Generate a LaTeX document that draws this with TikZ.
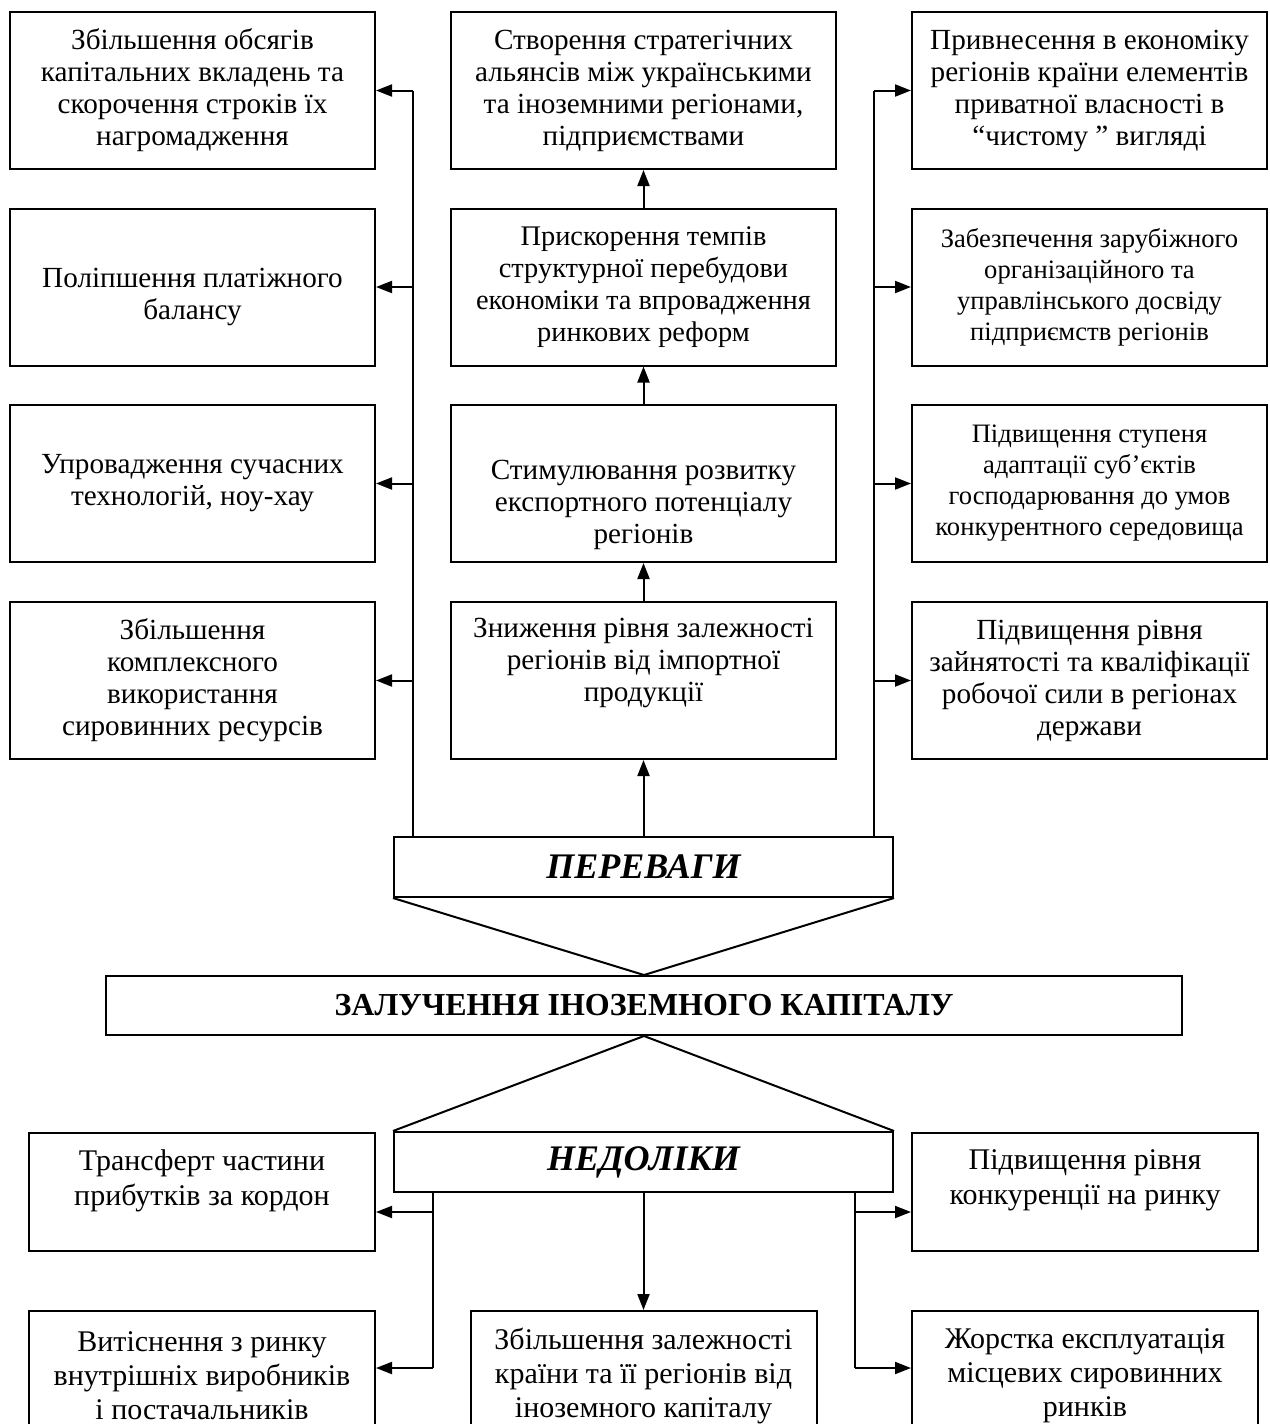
\documentclass[tikz,border=0pt]{standalone}
\usepackage{fontspec}
\setmainfont{Liberation Serif}
\usetikzlibrary{arrows.meta}

\begin{document}
\begin{tikzpicture}[x=0.5pt, y=-0.5pt,
  every node/.style={font=\fontsize{14.6}{16}\selectfont},
  box/.style={draw, line width=1pt, align=center, inner sep=2pt, minimum height=78.5pt},
  lbox/.style={box, minimum width=182.5pt},
  cbox/.style={box, minimum width=192.5pt},
  rbox/.style={box, minimum width=177.5pt},
  nbox/.style={box, minimum width=173pt, minimum height=59pt},
  bbox/.style={box, minimum width=173pt, minimum height=64.5pt, font=\fontsize{15}{17}\selectfont},
  small/.style={font=\fontsize{13.3}{15.5}\selectfont},
  lowtxt/.style={align=center, font=\fontsize{15}{17.5}\selectfont},
  txt/.style={align=center},
  head/.style={draw, line width=1pt, minimum width=249.5pt, minimum height=30pt, font=\fontsize{18}{20}\selectfont\bfseries\itshape},
  line/.style={line width=1pt},
  arr/.style={line width=1pt, -{Triangle[length=8pt,width=6pt]}}]
        \useasboundingbox (0,0) rectangle (1269,1424);
        % left column
        \node[lbox] (l1) at (192.5,90.5) {Збільшення обсягів\\капітальних вкладень та\\скорочення строків їх\\нагромадження};
        \node[lbox, label={[txt, yshift=-5pt]center:{Поліпшення платіжного\\балансу}}] (l2) at (192.5,287) {};
        \node[lbox] (l3) at (192.5,483.5) {Упровадження сучасних\\технологій, ноу-хау};
        \node[lbox] (l4) at (192.5,680.5) {Збільшення\\комплексного\\використання\\сировинних ресурсів};
        % centre column
        \node[cbox] (c1) at (643.5,90.5) {Створення стратегічних\\альянсів між українськими\\та іноземними регіонами,\\підприємствами};
        \node[cbox, font=\fontsize{14.2}{16}\selectfont] (c2) at (643.5,287) {Прискорення темпів\\структурної перебудови\\економіки та впровадження\\ринкових реформ};
        \node[cbox, label={[txt, yshift=-10.5pt]center:{Стимулювання розвитку\\експортного потенціалу\\регіонів}}] (c3) at (643.5,483.5) {};
        \node[cbox, label={[txt, yshift=8.75pt]center:{Зниження рівня залежності\\регіонів від імпортної\\продукції}}] (c4) at (643.5,680.5) {};
        % right column
        \node[rbox] (r1) at (1089.5,90.5) {Привнесення в економіку\\регіонів країни елементів\\приватної власності в\\“чистому ” вигляді};
        \node[rbox, small] (r2) at (1089.5,287) {Забезпечення зарубіжного\\організаційного та\\управлінського досвіду\\підприємств регіонів};
        \node[rbox, small] (r3) at (1089.5,483.5) {Підвищення ступеня\\адаптації суб’єктів\\господарювання до умов\\конкурентного середовища};
        \node[rbox] (r4) at (1089.5,680.5) {Підвищення рівня\\зайнятості та кваліфікації\\робочої сили в регіонах\\держави};
        % middle
        \node[head] (per) at (643.5,867) {ПЕРЕВАГИ};
        \node[draw, line width=1pt, minimum width=538pt, minimum height=29.5pt, font=\fontsize{16}{18}\selectfont\bfseries] (main) at (644,1005.5) {ЗАЛУЧЕННЯ ІНОЗЕМНОГО КАПІТАЛУ};
        \node[head] (ned) at (643.5,1162) {НЕДОЛІКИ};
        % lower boxes
        \node[nbox, label={[lowtxt, yshift=5.75pt]center:{Трансферт частини\\прибутків за кордон}}] (t1) at (202,1192) {};
        \node[nbox, label={[lowtxt, yshift=5.75pt]center:{Підвищення рівня\\конкуренції на ринку}}] (t2) at (1085,1192) {};
        \node[bbox] (v1) at (202,1375.5) {Витіснення з ринку\\внутрішніх виробників\\і постачальників};
        \node[bbox] (v2) at (643.5,1375.5) {Збільшення залежності\\країни та її регіонів від\\іноземного капіталу};
        \node[bbox] (v3) at (1085,1375.5) {Жорстка експлуатація\\місцевих сировинних\\ринків};

        \coordinate (lt) at (413,837);
        \coordinate (rt) at (874,837);
        \draw[line] (lt) -- (lt |- l1.east);
        \draw[line] (rt) -- (rt |- r1.west);
        \foreach \n in {1,...,4} {
          \draw[arr] (lt |- l\n.east) -- (l\n.east);
          \draw[arr] (rt |- r\n.west) -- (r\n.west);
        }
        \draw[arr] (per.north) -- (c4.south);
        \draw[arr] (c4.north) -- (c3.south);
        \draw[arr] (c3.north) -- (c2.south);
        \draw[arr] (c2.north) -- (c1.south);
        \draw[line] (per.south west) -- (main.north) -- (per.south east);
        \draw[line] (ned.north west) -- (main.south) -- (ned.north east);

        \coordinate (nl) at (433,1192);
        \coordinate (nl1) at (433,1212);
        \coordinate (nl2) at (433,1368);
        \coordinate (nr) at (855,1192);
        \coordinate (nr1) at (855,1212);
        \coordinate (nr2) at (855,1368);
        \draw[line] (nl) -- (nl2);
        \draw[line] (nr) -- (nr2);
        \draw[arr] (nl1) -- (nl1 -| t1.east);
        \draw[arr] (nl2) -- (nl2 -| v1.east);
        \draw[arr] (nr1) -- (nr1 -| t2.west);
        \draw[arr] (nr2) -- (nr2 -| v3.west);
        \draw[arr] (ned.south) -- (v2.north);
\end{tikzpicture}
\end{document}
